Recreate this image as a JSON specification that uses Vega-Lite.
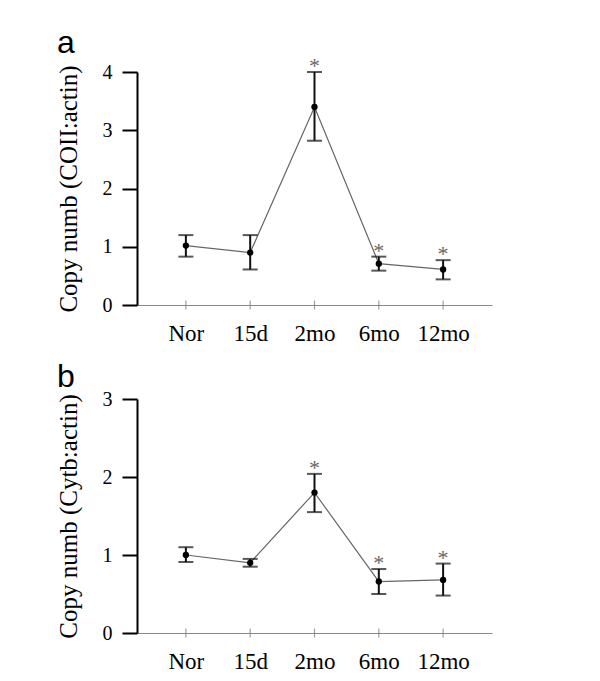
{
  "$schema": "https://vega.github.io/schema/vega-lite/v6.json",
  "background": "white",
  "padding": {"left": 55, "top": 27, "right": 5, "bottom": 5},
  "spacing": 16,
  "config": {
    "view": {"stroke": null},
    "axis": {"labelFont": "Liberation Serif", "titleFont": "Liberation Serif", "grid": false, "labelColor": "black", "titleColor": "black"},
    "title": {"font": "Liberation Sans", "fontSize": 32, "fontWeight": "normal", "color": "black", "anchor": "start", "frame": "group"}
  },
  "datasets": {
    "a": [
      {"cat": "Nor", "mean": 1.02, "lower": 0.83, "upper": 1.2, "star": ""},
      {"cat": "15d", "mean": 0.9, "lower": 0.61, "upper": 1.2, "star": ""},
      {"cat": "2mo", "mean": 3.4, "lower": 2.82, "upper": 4.0, "star": "*"},
      {"cat": "6mo", "mean": 0.71, "lower": 0.59, "upper": 0.83, "star": "*"},
      {"cat": "12mo", "mean": 0.61, "lower": 0.44, "upper": 0.77, "star": "*"}
    ],
    "b": [
      {"cat": "Nor", "mean": 1.0, "lower": 0.91, "upper": 1.1, "star": ""},
      {"cat": "15d", "mean": 0.9, "lower": 0.85, "upper": 0.95, "star": ""},
      {"cat": "2mo", "mean": 1.8, "lower": 1.55, "upper": 2.04, "star": "*"},
      {"cat": "6mo", "mean": 0.66, "lower": 0.5, "upper": 0.82, "star": "*"},
      {"cat": "12mo", "mean": 0.68, "lower": 0.48, "upper": 0.89, "star": "*"}
    ]
  },
  "vconcat": [
    {
      "title": {"text": "a", "dx": -80, "offset": -5},
      "width": 355,
      "height": 233,
      "data": {"name": "a"},
      "encoding": {
        "x": {"field": "cat", "type": "ordinal", "sort": ["Nor", "15d", "2mo", "6mo", "12mo"],
          "scale": {"type": "point", "padding": 0.76},
          "axis": {"title": null, "labelFontSize": 23, "labelPadding": 17, "ticks": false, "domainColor": "#888888", "domainWidth": 1.2, "labelAngle": 0}}
      },
      "layer": [
        {
          "mark": {"type": "line", "color": "#666666", "strokeWidth": 1.2},
          "encoding": {
            "y": {"field": "mean", "type": "quantitative", "scale": {"domain": [0, 4], "nice": false},
              "axis": {"title": "Copy numb (COII:actin)", "titleFontSize": 25, "titleFontWeight": "normal", "titlePadding": 21,
                "values": [0, 1, 2, 3, 4], "format": "d", "labelFontSize": 20, "labelPadding": 10, "tickSize": 15, "tickWidth": 2, "tickColor": "black",
                "domainColor": "black", "domainWidth": 2}}
          }
        },
        {
          "mark": {"type": "rule", "color": "#111111", "strokeWidth": 2},
          "encoding": {
            "y": {"field": "lower", "type": "quantitative", "title": "Copy numb (COII:actin)"},
            "y2": {"field": "upper"}
          }
        },
        {
          "mark": {"type": "tick", "orient": "horizontal", "color": "#111111", "size": 15, "thickness": 2},
          "encoding": {"y": {"field": "lower", "type": "quantitative", "title": "Copy numb (COII:actin)"}}
        },
        {
          "mark": {"type": "tick", "orient": "horizontal", "color": "#111111", "size": 15, "thickness": 2},
          "encoding": {"y": {"field": "upper", "type": "quantitative", "title": "Copy numb (COII:actin)"}}
        },
        {
          "mark": {"type": "point", "filled": true, "color": "black", "size": 40, "opacity": 1},
          "encoding": {"y": {"field": "mean", "type": "quantitative", "title": "Copy numb (COII:actin)"}}
        },
        {
          "mark": {"type": "text", "font": "Liberation Serif", "fontSize": 22, "color": "#666666", "baseline": "bottom", "dy": 6},
          "encoding": {"y": {"field": "upper", "type": "quantitative", "title": "Copy numb (COII:actin)"}, "text": {"field": "star"}}
        },
        {
          "mark": {"type": "tick", "orient": "vertical", "color": "#777777", "size": 9, "thickness": 1.2},
          "encoding": {"y": {"datum": 0}}
        }
      ]
    },
    {
      "title": {"text": "b", "dx": -80, "offset": -5},
      "width": 355,
      "height": 234,
      "data": {"name": "b"},
      "encoding": {
        "x": {"field": "cat", "type": "ordinal", "sort": ["Nor", "15d", "2mo", "6mo", "12mo"],
          "scale": {"type": "point", "padding": 0.76},
          "axis": {"title": null, "labelFontSize": 23, "labelPadding": 17, "ticks": false, "domainColor": "#888888", "domainWidth": 1.2, "labelAngle": 0}}
      },
      "layer": [
        {
          "mark": {"type": "line", "color": "#666666", "strokeWidth": 1.2},
          "encoding": {
            "y": {"field": "mean", "type": "quantitative", "scale": {"domain": [0, 3], "nice": false},
              "axis": {"title": "Copy numb (Cytb:actin)", "titleFontSize": 25, "titleFontWeight": "normal", "titlePadding": 21,
                "values": [0, 1, 2, 3], "format": "d", "labelFontSize": 20, "labelPadding": 10, "tickSize": 15, "tickWidth": 2, "tickColor": "black",
                "domainColor": "black", "domainWidth": 2}}
          }
        },
        {
          "mark": {"type": "rule", "color": "#111111", "strokeWidth": 2},
          "encoding": {
            "y": {"field": "lower", "type": "quantitative", "title": "Copy numb (Cytb:actin)"},
            "y2": {"field": "upper"}
          }
        },
        {
          "mark": {"type": "tick", "orient": "horizontal", "color": "#111111", "size": 15, "thickness": 2},
          "encoding": {"y": {"field": "lower", "type": "quantitative", "title": "Copy numb (Cytb:actin)"}}
        },
        {
          "mark": {"type": "tick", "orient": "horizontal", "color": "#111111", "size": 15, "thickness": 2},
          "encoding": {"y": {"field": "upper", "type": "quantitative", "title": "Copy numb (Cytb:actin)"}}
        },
        {
          "mark": {"type": "point", "filled": true, "color": "black", "size": 40, "opacity": 1},
          "encoding": {"y": {"field": "mean", "type": "quantitative", "title": "Copy numb (Cytb:actin)"}}
        },
        {
          "mark": {"type": "text", "font": "Liberation Serif", "fontSize": 22, "color": "#666666", "baseline": "bottom", "dy": 6},
          "encoding": {"y": {"field": "upper", "type": "quantitative", "title": "Copy numb (Cytb:actin)"}, "text": {"field": "star"}}
        },
        {
          "mark": {"type": "tick", "orient": "vertical", "color": "#777777", "size": 9, "thickness": 1.2},
          "encoding": {"y": {"datum": 0}}
        }
      ]
    }
  ]
}
